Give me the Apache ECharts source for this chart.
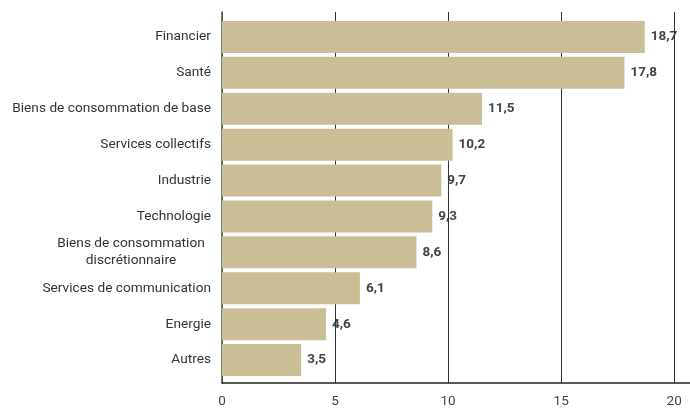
<!DOCTYPE html>
<html>
<head>
<meta charset="utf-8">
<script src="https://cdn.jsdelivr.net/npm/echarts@6/dist/echarts.min.js"></script>
<style>html,body{margin:0;padding:0;background:#fff}#c{width:690px;height:410px}</style>
</head>
<body>
<div id="c"></div>
<script>
var categories = ['Financier', 'Santé', 'Biens de consommation de base', 'Services collectifs', 'Industrie', 'Technologie', 'Biens de consommation\ndiscrétionnaire', 'Services de communication', 'Energie', 'Autres'];
var values = [18.7, 17.8, 11.5, 10.2, 9.7, 9.3, 8.6, 6.1, 4.6, 3.5];
var xTicks = [0, 5, 10, 15, 20];

var FONT = 'Roboto';
var chart = echarts.init(document.getElementById('c'), null, {renderer: 'canvas'});
chart.setOption({
  animation: false,
  grid: [
    {left: 222, right: 0, top: 12, bottom: 27},
    {left: 222, right: 0, top: 19, bottom: 32}
  ],
  xAxis: [
    {
      gridIndex: 0, type: 'value', min: xTicks[0], max: 20.7, interval: xTicks[1] - xTicks[0], z: 1,
      axisLine: {show: true, lineStyle: {color: '#222', width: 1.5}},
      axisTick: {show: false},
      axisLabel: {show: true, color: '#444', fontSize: 13.5, fontFamily: FONT, margin: 12, showMaxLabel: false,
        formatter: function (v) { return xTicks.indexOf(v) >= 0 ? String(v) : ''; }},
      splitLine: {show: true, lineStyle: {color: '#333', width: 1}}
    },
    {gridIndex: 1, type: 'value', min: xTicks[0], max: 20.7, show: false}
  ],
  yAxis: [
    {
      gridIndex: 0, type: 'category', data: categories, inverse: true, z: 1,
      axisLine: {show: true, lineStyle: {color: '#555', width: 1.5}},
      axisTick: {show: false}, axisLabel: {show: false}, splitLine: {show: false}
    },
    {
      gridIndex: 1, type: 'category', data: categories, inverse: true,
      axisLine: {show: false}, axisTick: {show: false},
      axisLabel: {
        margin: 11, color: '#333', fontSize: 13.7, fontFamily: FONT, lineHeight: 17,
        formatter: function (v) {
          if (v.indexOf('\n') >= 0) {
            return v.split('\n').map(function (s) { return '{c|' + s + '}'; }).join('\n');
          }
          return v;
        },
        rich: {c: {width: 160, align: 'center', color: '#333', fontSize: 13.7, fontFamily: FONT, lineHeight: 17}}
      }
    }
  ],
  series: [
    {
      type: 'bar', xAxisIndex: 1, yAxisIndex: 1, data: values, barWidth: 32, barGap: '-100%', z: 2,
      itemStyle: {color: '#C9BE96'}, silent: true
    },
    {
      type: 'bar', xAxisIndex: 1, yAxisIndex: 1, data: values, barWidth: 32, barGap: '-100%', z: 0,
      itemStyle: {color: 'rgba(0,0,0,0)'}, silent: true,
      label: {show: true, position: 'right', distance: 6, color: '#444', fontWeight: 'bold', fontSize: 13.5, fontFamily: FONT,
        formatter: function (p) { return String(p.value).replace('.', ','); }}
    }
  ]
});
</script>
</body>
</html>
